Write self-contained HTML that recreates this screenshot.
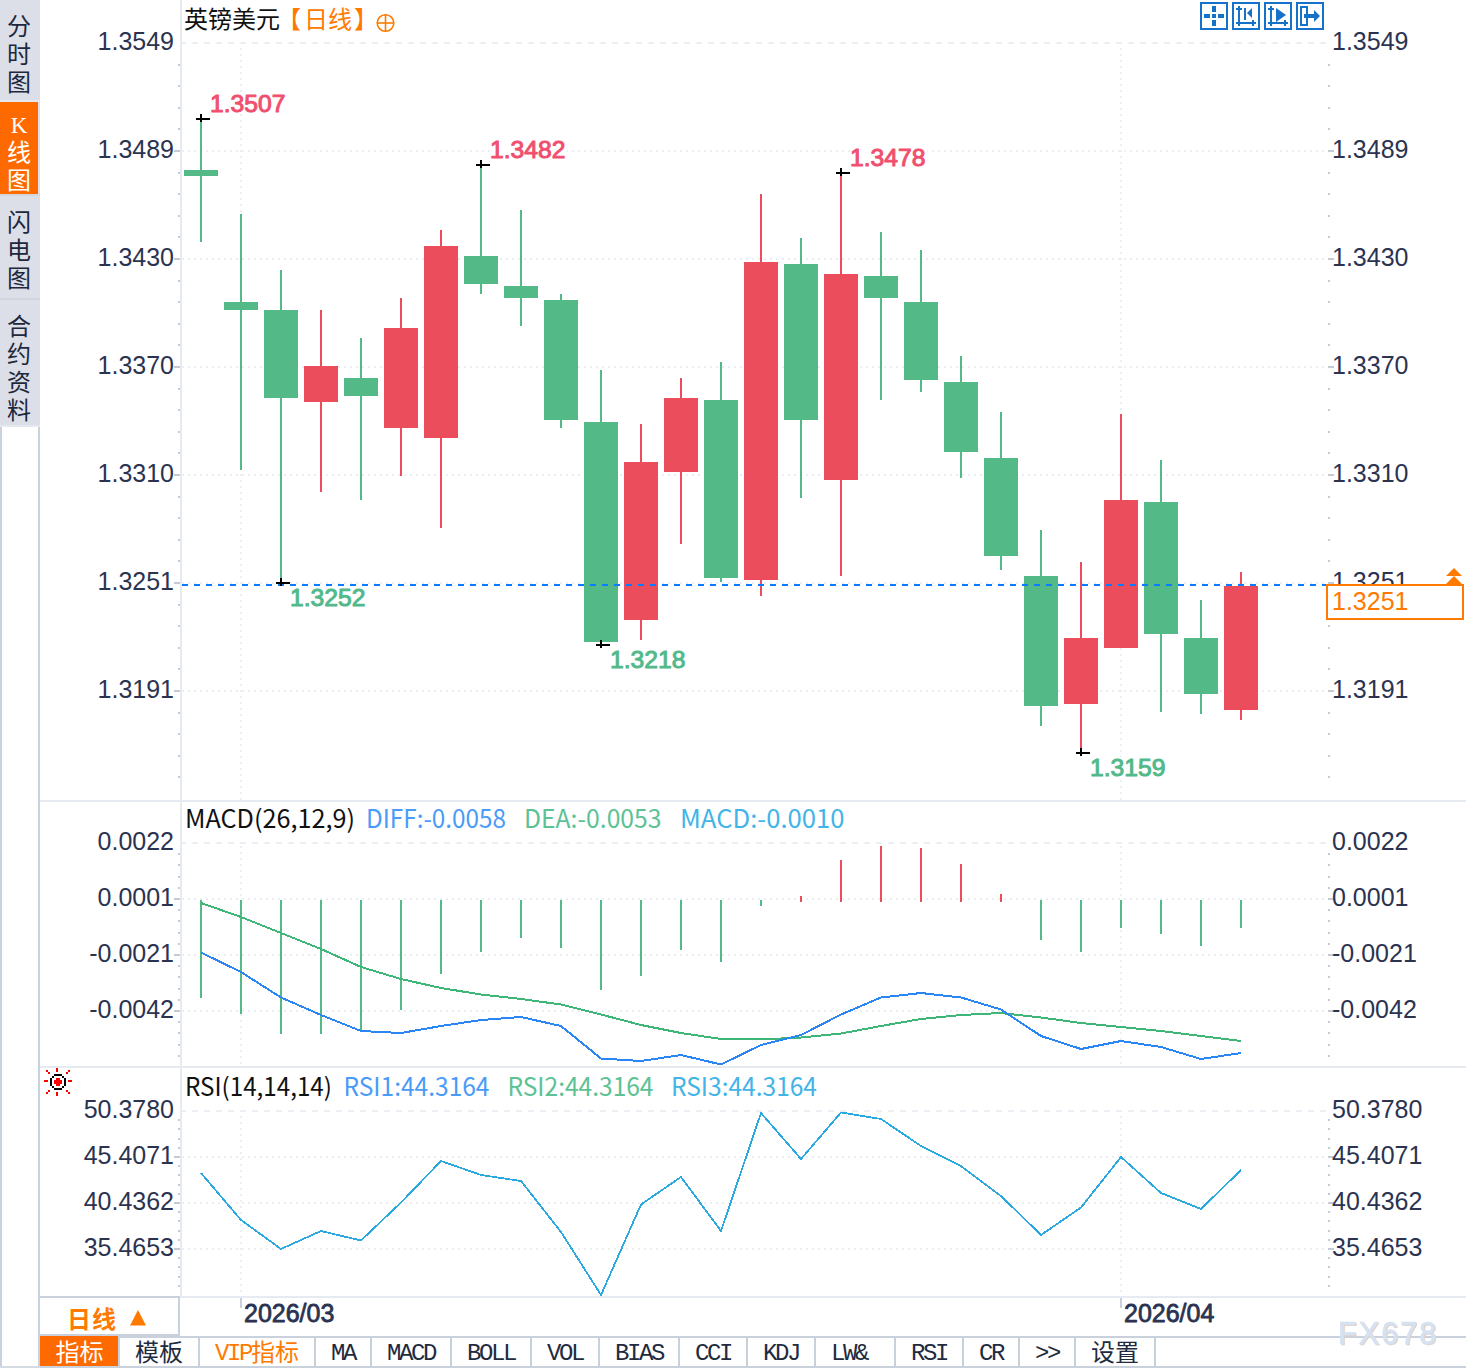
<!DOCTYPE html>
<html lang="zh-CN"><head><meta charset="utf-8"><title>英镑美元 日线</title>
<style>html,body{margin:0;padding:0;background:#fff;}body{width:1466px;height:1368px;position:relative;overflow:hidden;}</style></head>
<body>
<svg width="1466" height="1368" viewBox="0 0 1466 1368" style="position:absolute;left:0;top:0" shape-rendering="crispEdges">
<rect x="0" y="0" width="1466" height="1368" fill="#ffffff"/>
<rect x="0" y="0" width="40" height="427" fill="#dcdfe8"/>
<rect x="0" y="102" width="38" height="92" fill="#ff6a00"/>
<rect x="0" y="100" width="40" height="2" fill="#e6e8ef"/>
<rect x="0" y="194" width="40" height="2" fill="#d3d7e1"/>
<rect x="0" y="298" width="40" height="2" fill="#d0d5df"/>
<rect x="0" y="425" width="40" height="2" fill="#e6e8ef"/>
<rect x="0" y="427" width="2" height="939" fill="#c9d1dc"/>
<rect x="38" y="427" width="2" height="939" fill="#c9d1dc"/>
<rect x="0" y="1366" width="40" height="2" fill="#d4dae2"/>
<rect x="40" y="800" width="1426" height="2" fill="#e6ebf2"/>
<rect x="40" y="1066" width="1426" height="2" fill="#e6ebf2"/>
<rect x="180" y="1296" width="1286" height="2" fill="#e6ebf2"/>
<rect x="40" y="1296" width="140" height="2" fill="#c9d1dc"/>
<rect x="180" y="0" width="2" height="1298" fill="#e6ebf2"/>
<line x1="180" y1="43" x2="1326" y2="43" stroke="#ebeff3" stroke-width="2" stroke-dasharray="6 6"/>
<line x1="182" y1="151" x2="1326" y2="151" stroke="#ebeff3" stroke-width="2" stroke-dasharray="2 4"/>
<line x1="182" y1="259" x2="1326" y2="259" stroke="#ebeff3" stroke-width="2" stroke-dasharray="2 4"/>
<line x1="182" y1="367" x2="1326" y2="367" stroke="#ebeff3" stroke-width="2" stroke-dasharray="2 4"/>
<line x1="182" y1="475" x2="1326" y2="475" stroke="#ebeff3" stroke-width="2" stroke-dasharray="2 4"/>
<line x1="182" y1="583" x2="1326" y2="583" stroke="#ebeff3" stroke-width="2" stroke-dasharray="2 4"/>
<line x1="182" y1="691" x2="1326" y2="691" stroke="#ebeff3" stroke-width="2" stroke-dasharray="2 4"/>
<line x1="241" y1="48" x2="241" y2="800" stroke="#ebeff3" stroke-width="2" stroke-dasharray="2 4"/>
<line x1="1121" y1="48" x2="1121" y2="800" stroke="#ebeff3" stroke-width="2" stroke-dasharray="2 4"/>
<line x1="180" y1="843" x2="1326" y2="843" stroke="#ebeff3" stroke-width="2" stroke-dasharray="6 6"/>
<line x1="182" y1="899" x2="1326" y2="899" stroke="#ebeff3" stroke-width="2" stroke-dasharray="2 4"/>
<line x1="182" y1="955" x2="1326" y2="955" stroke="#ebeff3" stroke-width="2" stroke-dasharray="2 4"/>
<line x1="182" y1="1011" x2="1326" y2="1011" stroke="#ebeff3" stroke-width="2" stroke-dasharray="2 4"/>
<line x1="241" y1="846" x2="241" y2="1066" stroke="#ebeff3" stroke-width="2" stroke-dasharray="2 4"/>
<line x1="1121" y1="846" x2="1121" y2="1066" stroke="#ebeff3" stroke-width="2" stroke-dasharray="2 4"/>
<line x1="180" y1="1111" x2="1326" y2="1111" stroke="#ebeff3" stroke-width="2" stroke-dasharray="6 6"/>
<line x1="182" y1="1157" x2="1326" y2="1157" stroke="#ebeff3" stroke-width="2" stroke-dasharray="2 4"/>
<line x1="182" y1="1203" x2="1326" y2="1203" stroke="#ebeff3" stroke-width="2" stroke-dasharray="2 4"/>
<line x1="182" y1="1249" x2="1326" y2="1249" stroke="#ebeff3" stroke-width="2" stroke-dasharray="2 4"/>
<line x1="241" y1="1116" x2="241" y2="1296" stroke="#ebeff3" stroke-width="2" stroke-dasharray="2 4"/>
<line x1="1121" y1="1116" x2="1121" y2="1296" stroke="#ebeff3" stroke-width="2" stroke-dasharray="2 4"/>
<rect x="180" y="0" width="2" height="1298" fill="#e6ebf2"/>
<rect x="178" y="64" width="2" height="2" fill="#c4cad6"/>
<rect x="1328" y="64" width="2" height="2" fill="#c4cad6"/>
<rect x="178" y="85" width="2" height="2" fill="#c4cad6"/>
<rect x="1328" y="85" width="2" height="2" fill="#c4cad6"/>
<rect x="178" y="107" width="2" height="2" fill="#c4cad6"/>
<rect x="1328" y="107" width="2" height="2" fill="#c4cad6"/>
<rect x="178" y="128" width="2" height="2" fill="#c4cad6"/>
<rect x="1328" y="128" width="2" height="2" fill="#c4cad6"/>
<rect x="178" y="172" width="2" height="2" fill="#c4cad6"/>
<rect x="1328" y="172" width="2" height="2" fill="#c4cad6"/>
<rect x="178" y="193" width="2" height="2" fill="#c4cad6"/>
<rect x="1328" y="193" width="2" height="2" fill="#c4cad6"/>
<rect x="178" y="215" width="2" height="2" fill="#c4cad6"/>
<rect x="1328" y="215" width="2" height="2" fill="#c4cad6"/>
<rect x="178" y="236" width="2" height="2" fill="#c4cad6"/>
<rect x="1328" y="236" width="2" height="2" fill="#c4cad6"/>
<rect x="178" y="280" width="2" height="2" fill="#c4cad6"/>
<rect x="1328" y="280" width="2" height="2" fill="#c4cad6"/>
<rect x="178" y="301" width="2" height="2" fill="#c4cad6"/>
<rect x="1328" y="301" width="2" height="2" fill="#c4cad6"/>
<rect x="178" y="323" width="2" height="2" fill="#c4cad6"/>
<rect x="1328" y="323" width="2" height="2" fill="#c4cad6"/>
<rect x="178" y="344" width="2" height="2" fill="#c4cad6"/>
<rect x="1328" y="344" width="2" height="2" fill="#c4cad6"/>
<rect x="178" y="388" width="2" height="2" fill="#c4cad6"/>
<rect x="1328" y="388" width="2" height="2" fill="#c4cad6"/>
<rect x="178" y="409" width="2" height="2" fill="#c4cad6"/>
<rect x="1328" y="409" width="2" height="2" fill="#c4cad6"/>
<rect x="178" y="431" width="2" height="2" fill="#c4cad6"/>
<rect x="1328" y="431" width="2" height="2" fill="#c4cad6"/>
<rect x="178" y="452" width="2" height="2" fill="#c4cad6"/>
<rect x="1328" y="452" width="2" height="2" fill="#c4cad6"/>
<rect x="178" y="496" width="2" height="2" fill="#c4cad6"/>
<rect x="1328" y="496" width="2" height="2" fill="#c4cad6"/>
<rect x="178" y="517" width="2" height="2" fill="#c4cad6"/>
<rect x="1328" y="517" width="2" height="2" fill="#c4cad6"/>
<rect x="178" y="539" width="2" height="2" fill="#c4cad6"/>
<rect x="1328" y="539" width="2" height="2" fill="#c4cad6"/>
<rect x="178" y="560" width="2" height="2" fill="#c4cad6"/>
<rect x="1328" y="560" width="2" height="2" fill="#c4cad6"/>
<rect x="178" y="604" width="2" height="2" fill="#c4cad6"/>
<rect x="1328" y="604" width="2" height="2" fill="#c4cad6"/>
<rect x="178" y="625" width="2" height="2" fill="#c4cad6"/>
<rect x="1328" y="625" width="2" height="2" fill="#c4cad6"/>
<rect x="178" y="647" width="2" height="2" fill="#c4cad6"/>
<rect x="1328" y="647" width="2" height="2" fill="#c4cad6"/>
<rect x="178" y="668" width="2" height="2" fill="#c4cad6"/>
<rect x="1328" y="668" width="2" height="2" fill="#c4cad6"/>
<rect x="178" y="712" width="2" height="2" fill="#c4cad6"/>
<rect x="1328" y="712" width="2" height="2" fill="#c4cad6"/>
<rect x="178" y="733" width="2" height="2" fill="#c4cad6"/>
<rect x="1328" y="733" width="2" height="2" fill="#c4cad6"/>
<rect x="178" y="755" width="2" height="2" fill="#c4cad6"/>
<rect x="1328" y="755" width="2" height="2" fill="#c4cad6"/>
<rect x="178" y="776" width="2" height="2" fill="#c4cad6"/>
<rect x="1328" y="776" width="2" height="2" fill="#c4cad6"/>
<rect x="174" y="150" width="6" height="2" fill="#c4cad6"/>
<rect x="1328" y="150" width="6" height="2" fill="#c4cad6"/>
<rect x="174" y="258" width="6" height="2" fill="#c4cad6"/>
<rect x="1328" y="258" width="6" height="2" fill="#c4cad6"/>
<rect x="174" y="366" width="6" height="2" fill="#c4cad6"/>
<rect x="1328" y="366" width="6" height="2" fill="#c4cad6"/>
<rect x="174" y="474" width="6" height="2" fill="#c4cad6"/>
<rect x="1328" y="474" width="6" height="2" fill="#c4cad6"/>
<rect x="174" y="582" width="6" height="2" fill="#c4cad6"/>
<rect x="1328" y="582" width="6" height="2" fill="#c4cad6"/>
<rect x="174" y="690" width="6" height="2" fill="#c4cad6"/>
<rect x="1328" y="690" width="6" height="2" fill="#c4cad6"/>
<rect x="178" y="853" width="2" height="2" fill="#c4cad6"/>
<rect x="1328" y="853" width="2" height="2" fill="#c4cad6"/>
<rect x="178" y="864" width="2" height="2" fill="#c4cad6"/>
<rect x="1328" y="864" width="2" height="2" fill="#c4cad6"/>
<rect x="178" y="876" width="2" height="2" fill="#c4cad6"/>
<rect x="1328" y="876" width="2" height="2" fill="#c4cad6"/>
<rect x="178" y="887" width="2" height="2" fill="#c4cad6"/>
<rect x="1328" y="887" width="2" height="2" fill="#c4cad6"/>
<rect x="178" y="909" width="2" height="2" fill="#c4cad6"/>
<rect x="1328" y="909" width="2" height="2" fill="#c4cad6"/>
<rect x="178" y="920" width="2" height="2" fill="#c4cad6"/>
<rect x="1328" y="920" width="2" height="2" fill="#c4cad6"/>
<rect x="178" y="932" width="2" height="2" fill="#c4cad6"/>
<rect x="1328" y="932" width="2" height="2" fill="#c4cad6"/>
<rect x="178" y="943" width="2" height="2" fill="#c4cad6"/>
<rect x="1328" y="943" width="2" height="2" fill="#c4cad6"/>
<rect x="178" y="965" width="2" height="2" fill="#c4cad6"/>
<rect x="1328" y="965" width="2" height="2" fill="#c4cad6"/>
<rect x="178" y="976" width="2" height="2" fill="#c4cad6"/>
<rect x="1328" y="976" width="2" height="2" fill="#c4cad6"/>
<rect x="178" y="988" width="2" height="2" fill="#c4cad6"/>
<rect x="1328" y="988" width="2" height="2" fill="#c4cad6"/>
<rect x="178" y="999" width="2" height="2" fill="#c4cad6"/>
<rect x="1328" y="999" width="2" height="2" fill="#c4cad6"/>
<rect x="178" y="1021" width="2" height="2" fill="#c4cad6"/>
<rect x="1328" y="1021" width="2" height="2" fill="#c4cad6"/>
<rect x="178" y="1032" width="2" height="2" fill="#c4cad6"/>
<rect x="1328" y="1032" width="2" height="2" fill="#c4cad6"/>
<rect x="178" y="1044" width="2" height="2" fill="#c4cad6"/>
<rect x="1328" y="1044" width="2" height="2" fill="#c4cad6"/>
<rect x="178" y="1055" width="2" height="2" fill="#c4cad6"/>
<rect x="1328" y="1055" width="2" height="2" fill="#c4cad6"/>
<rect x="174" y="898" width="6" height="2" fill="#c4cad6"/>
<rect x="1328" y="898" width="6" height="2" fill="#c4cad6"/>
<rect x="174" y="954" width="6" height="2" fill="#c4cad6"/>
<rect x="1328" y="954" width="6" height="2" fill="#c4cad6"/>
<rect x="174" y="1010" width="6" height="2" fill="#c4cad6"/>
<rect x="1328" y="1010" width="6" height="2" fill="#c4cad6"/>
<rect x="178" y="1119" width="2" height="2" fill="#c4cad6"/>
<rect x="1328" y="1119" width="2" height="2" fill="#c4cad6"/>
<rect x="178" y="1128" width="2" height="2" fill="#c4cad6"/>
<rect x="1328" y="1128" width="2" height="2" fill="#c4cad6"/>
<rect x="178" y="1138" width="2" height="2" fill="#c4cad6"/>
<rect x="1328" y="1138" width="2" height="2" fill="#c4cad6"/>
<rect x="178" y="1147" width="2" height="2" fill="#c4cad6"/>
<rect x="1328" y="1147" width="2" height="2" fill="#c4cad6"/>
<rect x="178" y="1165" width="2" height="2" fill="#c4cad6"/>
<rect x="1328" y="1165" width="2" height="2" fill="#c4cad6"/>
<rect x="178" y="1174" width="2" height="2" fill="#c4cad6"/>
<rect x="1328" y="1174" width="2" height="2" fill="#c4cad6"/>
<rect x="178" y="1184" width="2" height="2" fill="#c4cad6"/>
<rect x="1328" y="1184" width="2" height="2" fill="#c4cad6"/>
<rect x="178" y="1193" width="2" height="2" fill="#c4cad6"/>
<rect x="1328" y="1193" width="2" height="2" fill="#c4cad6"/>
<rect x="178" y="1211" width="2" height="2" fill="#c4cad6"/>
<rect x="1328" y="1211" width="2" height="2" fill="#c4cad6"/>
<rect x="178" y="1220" width="2" height="2" fill="#c4cad6"/>
<rect x="1328" y="1220" width="2" height="2" fill="#c4cad6"/>
<rect x="178" y="1230" width="2" height="2" fill="#c4cad6"/>
<rect x="1328" y="1230" width="2" height="2" fill="#c4cad6"/>
<rect x="178" y="1239" width="2" height="2" fill="#c4cad6"/>
<rect x="1328" y="1239" width="2" height="2" fill="#c4cad6"/>
<rect x="178" y="1257" width="2" height="2" fill="#c4cad6"/>
<rect x="1328" y="1257" width="2" height="2" fill="#c4cad6"/>
<rect x="178" y="1266" width="2" height="2" fill="#c4cad6"/>
<rect x="1328" y="1266" width="2" height="2" fill="#c4cad6"/>
<rect x="178" y="1276" width="2" height="2" fill="#c4cad6"/>
<rect x="1328" y="1276" width="2" height="2" fill="#c4cad6"/>
<rect x="178" y="1285" width="2" height="2" fill="#c4cad6"/>
<rect x="1328" y="1285" width="2" height="2" fill="#c4cad6"/>
<rect x="174" y="1156" width="6" height="2" fill="#c4cad6"/>
<rect x="1328" y="1156" width="6" height="2" fill="#c4cad6"/>
<rect x="174" y="1202" width="6" height="2" fill="#c4cad6"/>
<rect x="1328" y="1202" width="6" height="2" fill="#c4cad6"/>
<rect x="174" y="1248" width="6" height="2" fill="#c4cad6"/>
<rect x="1328" y="1248" width="6" height="2" fill="#c4cad6"/>
<rect x="200" y="119" width="2" height="123" fill="#53b987"/>
<rect x="184" y="170" width="34" height="6" fill="#53b987"/>
<rect x="240" y="214" width="2" height="256" fill="#53b987"/>
<rect x="224" y="302" width="34" height="8" fill="#53b987"/>
<rect x="280" y="270" width="2" height="313" fill="#53b987"/>
<rect x="264" y="310" width="34" height="88" fill="#53b987"/>
<rect x="320" y="310" width="2" height="182" fill="#eb4d5c"/>
<rect x="304" y="366" width="34" height="36" fill="#eb4d5c"/>
<rect x="360" y="338" width="2" height="162" fill="#53b987"/>
<rect x="344" y="378" width="34" height="18" fill="#53b987"/>
<rect x="400" y="298" width="2" height="178" fill="#eb4d5c"/>
<rect x="384" y="328" width="34" height="100" fill="#eb4d5c"/>
<rect x="440" y="230" width="2" height="298" fill="#eb4d5c"/>
<rect x="424" y="246" width="34" height="192" fill="#eb4d5c"/>
<rect x="480" y="165" width="2" height="129" fill="#53b987"/>
<rect x="464" y="256" width="34" height="28" fill="#53b987"/>
<rect x="520" y="210" width="2" height="116" fill="#53b987"/>
<rect x="504" y="286" width="34" height="12" fill="#53b987"/>
<rect x="560" y="294" width="2" height="134" fill="#53b987"/>
<rect x="544" y="300" width="34" height="120" fill="#53b987"/>
<rect x="600" y="370" width="2" height="275" fill="#53b987"/>
<rect x="584" y="422" width="34" height="220" fill="#53b987"/>
<rect x="640" y="424" width="2" height="216" fill="#eb4d5c"/>
<rect x="624" y="462" width="34" height="158" fill="#eb4d5c"/>
<rect x="680" y="378" width="2" height="166" fill="#eb4d5c"/>
<rect x="664" y="398" width="34" height="74" fill="#eb4d5c"/>
<rect x="720" y="362" width="2" height="220" fill="#53b987"/>
<rect x="704" y="400" width="34" height="178" fill="#53b987"/>
<rect x="760" y="194" width="2" height="402" fill="#eb4d5c"/>
<rect x="744" y="262" width="34" height="318" fill="#eb4d5c"/>
<rect x="800" y="238" width="2" height="260" fill="#53b987"/>
<rect x="784" y="264" width="34" height="156" fill="#53b987"/>
<rect x="840" y="173" width="2" height="403" fill="#eb4d5c"/>
<rect x="824" y="274" width="34" height="206" fill="#eb4d5c"/>
<rect x="880" y="232" width="2" height="168" fill="#53b987"/>
<rect x="864" y="276" width="34" height="22" fill="#53b987"/>
<rect x="920" y="250" width="2" height="142" fill="#53b987"/>
<rect x="904" y="302" width="34" height="78" fill="#53b987"/>
<rect x="960" y="356" width="2" height="122" fill="#53b987"/>
<rect x="944" y="382" width="34" height="70" fill="#53b987"/>
<rect x="1000" y="412" width="2" height="158" fill="#53b987"/>
<rect x="984" y="458" width="34" height="98" fill="#53b987"/>
<rect x="1040" y="530" width="2" height="196" fill="#53b987"/>
<rect x="1024" y="576" width="34" height="130" fill="#53b987"/>
<rect x="1080" y="562" width="2" height="191" fill="#eb4d5c"/>
<rect x="1064" y="638" width="34" height="66" fill="#eb4d5c"/>
<rect x="1120" y="414" width="2" height="234" fill="#eb4d5c"/>
<rect x="1104" y="500" width="34" height="148" fill="#eb4d5c"/>
<rect x="1160" y="460" width="2" height="252" fill="#53b987"/>
<rect x="1144" y="502" width="34" height="132" fill="#53b987"/>
<rect x="1200" y="600" width="2" height="114" fill="#53b987"/>
<rect x="1184" y="638" width="34" height="56" fill="#53b987"/>
<rect x="1240" y="572" width="2" height="148" fill="#eb4d5c"/>
<rect x="1224" y="586" width="34" height="124" fill="#eb4d5c"/>
<line x1="182" y1="585" x2="1326" y2="585" stroke="#0a7cff" stroke-width="2" stroke-dasharray="6 6"/>
<rect x="196" y="118" width="14" height="2" fill="#000"/>
<rect x="200" y="114" width="2" height="8" fill="#000"/>
<rect x="476" y="164" width="14" height="2" fill="#000"/>
<rect x="480" y="160" width="2" height="8" fill="#000"/>
<rect x="836" y="172" width="14" height="2" fill="#000"/>
<rect x="840" y="168" width="2" height="8" fill="#000"/>
<rect x="276" y="582" width="14" height="2" fill="#000"/>
<rect x="280" y="578" width="2" height="8" fill="#000"/>
<rect x="596" y="644" width="14" height="2" fill="#000"/>
<rect x="600" y="640" width="2" height="8" fill="#000"/>
<rect x="1076" y="752" width="14" height="2" fill="#000"/>
<rect x="1080" y="748" width="2" height="8" fill="#000"/>
<rect x="200" y="900" width="2" height="98" fill="#53b987"/>
<rect x="240" y="900" width="2" height="114" fill="#53b987"/>
<rect x="280" y="900" width="2" height="134" fill="#53b987"/>
<rect x="320" y="900" width="2" height="134" fill="#53b987"/>
<rect x="360" y="900" width="2" height="131" fill="#53b987"/>
<rect x="400" y="900" width="2" height="110" fill="#53b987"/>
<rect x="440" y="900" width="2" height="74" fill="#53b987"/>
<rect x="480" y="900" width="2" height="52" fill="#53b987"/>
<rect x="520" y="900" width="2" height="38" fill="#53b987"/>
<rect x="560" y="900" width="2" height="48" fill="#53b987"/>
<rect x="600" y="900" width="2" height="90" fill="#53b987"/>
<rect x="640" y="900" width="2" height="76" fill="#53b987"/>
<rect x="680" y="900" width="2" height="50" fill="#53b987"/>
<rect x="720" y="900" width="2" height="62" fill="#53b987"/>
<rect x="760" y="900" width="2" height="6" fill="#53b987"/>
<rect x="800" y="896" width="2" height="6" fill="#eb4d5c"/>
<rect x="840" y="860" width="2" height="42" fill="#eb4d5c"/>
<rect x="880" y="846" width="2" height="56" fill="#eb4d5c"/>
<rect x="920" y="848" width="2" height="54" fill="#eb4d5c"/>
<rect x="960" y="864" width="2" height="38" fill="#eb4d5c"/>
<rect x="1000" y="894" width="2" height="8" fill="#eb4d5c"/>
<rect x="1040" y="900" width="2" height="40" fill="#53b987"/>
<rect x="1080" y="900" width="2" height="52" fill="#53b987"/>
<rect x="1120" y="900" width="2" height="28" fill="#53b987"/>
<rect x="1160" y="900" width="2" height="34" fill="#53b987"/>
<rect x="1200" y="900" width="2" height="46" fill="#53b987"/>
<rect x="1240" y="900" width="2" height="28" fill="#53b987"/>
</svg>
<svg width="1466" height="1368" viewBox="0 0 1466 1368" style="position:absolute;left:0;top:0">
<polyline points="201,903 241,917 281,933 321,949 361,967 401,979 441,988 481,994.5 521,999 561,1004.5 601,1014.5 641,1025 681,1033 721,1039 761,1039.5 801,1037.5 841,1033.5 881,1026 921,1019 961,1015 1001,1013 1041,1017.5 1081,1023 1121,1027 1161,1031 1201,1036 1241,1041" fill="none" stroke="#3db678" stroke-width="2" stroke-linejoin="round" shape-rendering="crispEdges"/>
<polyline points="201,952.5 241,972 281,997.5 321,1015 361,1031 401,1033 441,1026 481,1020 521,1017 561,1026 601,1058.5 641,1061 681,1055 721,1064.5 761,1045 801,1035 841,1014.5 881,997.5 921,993 961,997.5 1001,1009.5 1041,1036 1081,1049 1121,1041 1161,1047 1201,1059 1241,1053" fill="none" stroke="#2a86f5" stroke-width="2" stroke-linejoin="round" shape-rendering="crispEdges"/>
<polyline points="201,1173 241,1220 281,1249 321,1231 361,1240.5 401,1202.5 441,1161 481,1175 521,1181 561,1232 601,1295 641,1204.5 681,1177 721,1231 761,1113 801,1159 841,1112.5 881,1119 921,1146 961,1166 1001,1196 1041,1235 1081,1207.5 1121,1157 1161,1193 1201,1209 1241,1170" fill="none" stroke="#2aa9e0" stroke-width="1.8" stroke-linejoin="round" shape-rendering="crispEdges"/>
<rect x="1201" y="3" width="26" height="26" fill="#fff" stroke="#1672c8" stroke-width="2" shape-rendering="crispEdges"/>
<rect x="1233" y="3" width="26" height="26" fill="#fff" stroke="#1672c8" stroke-width="2" shape-rendering="crispEdges"/>
<rect x="1265" y="3" width="26" height="26" fill="#fff" stroke="#1672c8" stroke-width="2" shape-rendering="crispEdges"/>
<rect x="1297" y="3" width="26" height="26" fill="#fff" stroke="#1672c8" stroke-width="2" shape-rendering="crispEdges"/>
<g fill="#1672c8" shape-rendering="crispEdges"><rect x="1212" y="6" width="4" height="6"/><rect x="1212" y="20" width="4" height="6"/><rect x="1204" y="14" width="6" height="4"/><rect x="1218" y="14" width="6" height="4"/><rect x="1212" y="14" width="4" height="4"/></g>
<g fill="#1672c8" shape-rendering="crispEdges"><rect x="1238" y="6" width="2" height="20"/><rect x="1236" y="8" width="6" height="2"/><rect x="1236" y="22" width="20" height="2"/><rect x="1252" y="20" width="2" height="6"/><rect x="1244" y="8" width="2" height="12"/></g><path d="M1252 8 L1252 18 L1247 13 Z" fill="#1672c8"/>
<g fill="#1672c8" shape-rendering="crispEdges"><rect x="1270" y="6" width="2" height="20"/><rect x="1268" y="8" width="6" height="2"/><rect x="1268" y="22" width="20" height="2"/><rect x="1284" y="20" width="2" height="6"/></g><path d="M1276 8 L1286 15 L1276 22 Z" fill="#1672c8"/>
<g shape-rendering="crispEdges"><rect x="1301" y="7" width="6" height="18" fill="none" stroke="#1672c8" stroke-width="2"/><rect x="1304" y="14" width="12" height="4" fill="#1672c8"/></g><path d="M1314 10 L1320 16 L1314 22 Z" fill="#1672c8"/>
<g stroke="#ff7a00" stroke-width="1.6" fill="none"><circle cx="385.5" cy="23" r="8.3"/><line x1="377" y1="23" x2="394" y2="23"/><line x1="385.5" y1="14.5" x2="385.5" y2="31.5"/></g>
<rect x="1327" y="585" width="136" height="34" fill="#fff" stroke="#ff7a00" stroke-width="2" shape-rendering="crispEdges"/>
<path d="M1446 576 L1454 568 L1462 576 Z M1446 584 L1454 576 L1462 584 Z" fill="#ff7a00"/>
<g shape-rendering="crispEdges"><g fill="#000"><rect x="54" y="1074" width="8" height="2"/><rect x="54" y="1088" width="8" height="2"/><rect x="50" y="1078" width="2" height="8"/><rect x="64" y="1078" width="2" height="8"/><rect x="52" y="1076" width="2" height="2"/><rect x="62" y="1076" width="2" height="2"/><rect x="52" y="1086" width="2" height="2"/><rect x="62" y="1086" width="2" height="2"/></g><g fill="#f00"><rect x="54" y="1080" width="8" height="4"/><rect x="56" y="1078" width="4" height="8"/><rect x="56" y="1068" width="2" height="4"/><rect x="56" y="1092" width="2" height="4"/><rect x="44" y="1080" width="4" height="2"/><rect x="68" y="1080" width="4" height="2"/><rect x="46" y="1070" width="2" height="2"/><rect x="48" y="1072" width="2" height="2"/><rect x="68" y="1070" width="2" height="2"/><rect x="66" y="1072" width="2" height="2"/><rect x="46" y="1092" width="2" height="2"/><rect x="48" y="1090" width="2" height="2"/><rect x="68" y="1092" width="2" height="2"/><rect x="66" y="1090" width="2" height="2"/></g></g>
<g shape-rendering="crispEdges">
<rect x="178" y="1298" width="2" height="38" fill="#c9d1dc"/>
<rect x="40" y="1334" width="140" height="2" fill="#c9d1dc"/>
<rect x="40" y="1336" width="1426" height="2" fill="#c9d1dc"/>
<rect x="40" y="1366" width="1426" height="2" fill="#c9d1dc"/>
<rect x="40" y="1336" width="78" height="30" fill="#ff6a00"/>
<rect x="118" y="1338" width="2" height="28" fill="#c9d1dc"/>
<rect x="198" y="1338" width="2" height="28" fill="#c9d1dc"/>
<rect x="314" y="1338" width="2" height="28" fill="#c9d1dc"/>
<rect x="370" y="1338" width="2" height="28" fill="#c9d1dc"/>
<rect x="450" y="1338" width="2" height="28" fill="#c9d1dc"/>
<rect x="530" y="1338" width="2" height="28" fill="#c9d1dc"/>
<rect x="598" y="1338" width="2" height="28" fill="#c9d1dc"/>
<rect x="678" y="1338" width="2" height="28" fill="#c9d1dc"/>
<rect x="746" y="1338" width="2" height="28" fill="#c9d1dc"/>
<rect x="814" y="1338" width="2" height="28" fill="#c9d1dc"/>
<rect x="894" y="1338" width="2" height="28" fill="#c9d1dc"/>
<rect x="962" y="1338" width="2" height="28" fill="#c9d1dc"/>
<rect x="1018" y="1338" width="2" height="28" fill="#c9d1dc"/>
<rect x="1074" y="1338" width="2" height="28" fill="#c9d1dc"/>
<rect x="1154" y="1338" width="2" height="28" fill="#c9d1dc"/>
<rect x="240" y="1298" width="2" height="10" fill="#c9d1dc"/>
<rect x="1120" y="1298" width="2" height="10" fill="#c9d1dc"/>
</g>
<path d="M130 1325.5 L138 1310 L146 1325.5 Z" fill="#ff7a00"/>
<text x="174" y="50" font-family="Liberation Sans, sans-serif" font-size="25" fill="#2b3350" text-anchor="end" font-weight="normal" >1.3549</text>
<text x="1332" y="50" font-family="Liberation Sans, sans-serif" font-size="25" fill="#2b3350" text-anchor="start" font-weight="normal" >1.3549</text>
<text x="174" y="158" font-family="Liberation Sans, sans-serif" font-size="25" fill="#2b3350" text-anchor="end" font-weight="normal" >1.3489</text>
<text x="1332" y="158" font-family="Liberation Sans, sans-serif" font-size="25" fill="#2b3350" text-anchor="start" font-weight="normal" >1.3489</text>
<text x="174" y="266" font-family="Liberation Sans, sans-serif" font-size="25" fill="#2b3350" text-anchor="end" font-weight="normal" >1.3430</text>
<text x="1332" y="266" font-family="Liberation Sans, sans-serif" font-size="25" fill="#2b3350" text-anchor="start" font-weight="normal" >1.3430</text>
<text x="174" y="374" font-family="Liberation Sans, sans-serif" font-size="25" fill="#2b3350" text-anchor="end" font-weight="normal" >1.3370</text>
<text x="1332" y="374" font-family="Liberation Sans, sans-serif" font-size="25" fill="#2b3350" text-anchor="start" font-weight="normal" >1.3370</text>
<text x="174" y="482" font-family="Liberation Sans, sans-serif" font-size="25" fill="#2b3350" text-anchor="end" font-weight="normal" >1.3310</text>
<text x="1332" y="482" font-family="Liberation Sans, sans-serif" font-size="25" fill="#2b3350" text-anchor="start" font-weight="normal" >1.3310</text>
<text x="174" y="590" font-family="Liberation Sans, sans-serif" font-size="25" fill="#2b3350" text-anchor="end" font-weight="normal" >1.3251</text>
<text x="1332" y="590" font-family="Liberation Sans, sans-serif" font-size="25" fill="#2b3350" text-anchor="start" font-weight="normal" >1.3251</text>
<text x="174" y="698" font-family="Liberation Sans, sans-serif" font-size="25" fill="#2b3350" text-anchor="end" font-weight="normal" >1.3191</text>
<text x="1332" y="698" font-family="Liberation Sans, sans-serif" font-size="25" fill="#2b3350" text-anchor="start" font-weight="normal" >1.3191</text>
<text x="174" y="850" font-family="Liberation Sans, sans-serif" font-size="25" fill="#2b3350" text-anchor="end" font-weight="normal" >0.0022</text>
<text x="1332" y="850" font-family="Liberation Sans, sans-serif" font-size="25" fill="#2b3350" text-anchor="start" font-weight="normal" >0.0022</text>
<text x="174" y="906" font-family="Liberation Sans, sans-serif" font-size="25" fill="#2b3350" text-anchor="end" font-weight="normal" >0.0001</text>
<text x="1332" y="906" font-family="Liberation Sans, sans-serif" font-size="25" fill="#2b3350" text-anchor="start" font-weight="normal" >0.0001</text>
<text x="174" y="962" font-family="Liberation Sans, sans-serif" font-size="25" fill="#2b3350" text-anchor="end" font-weight="normal" >-0.0021</text>
<text x="1332" y="962" font-family="Liberation Sans, sans-serif" font-size="25" fill="#2b3350" text-anchor="start" font-weight="normal" >-0.0021</text>
<text x="174" y="1018" font-family="Liberation Sans, sans-serif" font-size="25" fill="#2b3350" text-anchor="end" font-weight="normal" >-0.0042</text>
<text x="1332" y="1018" font-family="Liberation Sans, sans-serif" font-size="25" fill="#2b3350" text-anchor="start" font-weight="normal" >-0.0042</text>
<text x="174" y="1118" font-family="Liberation Sans, sans-serif" font-size="25" fill="#2b3350" text-anchor="end" font-weight="normal" >50.3780</text>
<text x="1332" y="1118" font-family="Liberation Sans, sans-serif" font-size="25" fill="#2b3350" text-anchor="start" font-weight="normal" >50.3780</text>
<text x="174" y="1164" font-family="Liberation Sans, sans-serif" font-size="25" fill="#2b3350" text-anchor="end" font-weight="normal" >45.4071</text>
<text x="1332" y="1164" font-family="Liberation Sans, sans-serif" font-size="25" fill="#2b3350" text-anchor="start" font-weight="normal" >45.4071</text>
<text x="174" y="1210" font-family="Liberation Sans, sans-serif" font-size="25" fill="#2b3350" text-anchor="end" font-weight="normal" >40.4362</text>
<text x="1332" y="1210" font-family="Liberation Sans, sans-serif" font-size="25" fill="#2b3350" text-anchor="start" font-weight="normal" >40.4362</text>
<text x="174" y="1256" font-family="Liberation Sans, sans-serif" font-size="25" fill="#2b3350" text-anchor="end" font-weight="normal" >35.4653</text>
<text x="1332" y="1256" font-family="Liberation Sans, sans-serif" font-size="25" fill="#2b3350" text-anchor="start" font-weight="normal" >35.4653</text>
<rect x="1327" y="585" width="136" height="34" fill="#fff" stroke="#ff7a00" stroke-width="2" shape-rendering="crispEdges"/>
<text x="1332" y="610" font-family="Liberation Sans, sans-serif" font-size="25" fill="#ff7a00" text-anchor="start" font-weight="normal" >1.3251</text>
<rect x="210" y="93" width="77" height="21" fill="#fff"/>
<rect x="490" y="139" width="77" height="21" fill="#fff"/>
<rect x="850" y="147" width="77" height="21" fill="#fff"/>
<rect x="290" y="587" width="77" height="21" fill="#fff"/>
<rect x="610" y="649" width="77" height="21" fill="#fff"/>
<rect x="1090" y="757" width="77" height="21" fill="#fff"/>
<text x="210" y="112" font-family="Liberation Sans, sans-serif" font-size="24.7" fill="#f0506e" text-anchor="start" font-weight="normal" stroke="#f0506e" stroke-width="1.0" stroke-linejoin="round">1.3507</text>
<text x="490" y="158" font-family="Liberation Sans, sans-serif" font-size="24.7" fill="#f0506e" text-anchor="start" font-weight="normal" stroke="#f0506e" stroke-width="1.0" stroke-linejoin="round">1.3482</text>
<text x="850" y="166" font-family="Liberation Sans, sans-serif" font-size="24.7" fill="#f0506e" text-anchor="start" font-weight="normal" stroke="#f0506e" stroke-width="1.0" stroke-linejoin="round">1.3478</text>
<text x="290" y="606" font-family="Liberation Sans, sans-serif" font-size="24.7" fill="#52b98a" text-anchor="start" font-weight="normal" stroke="#52b98a" stroke-width="1.0" stroke-linejoin="round">1.3252</text>
<text x="610" y="668" font-family="Liberation Sans, sans-serif" font-size="24.7" fill="#52b98a" text-anchor="start" font-weight="normal" stroke="#52b98a" stroke-width="1.0" stroke-linejoin="round">1.3218</text>
<text x="1090" y="776" font-family="Liberation Sans, sans-serif" font-size="24.7" fill="#52b98a" text-anchor="start" font-weight="normal" stroke="#52b98a" stroke-width="1.0" stroke-linejoin="round">1.3159</text>
<text x="184" y="28" font-family="Noto Sans CJK SC, Liberation Sans, sans-serif" font-size="24" fill="#111" text-anchor="start" font-weight="normal" >英镑美元</text>
<text x="277" y="28" font-family="Noto Sans CJK SC, Liberation Sans, sans-serif" font-size="24" fill="#ff7a00" text-anchor="start" font-weight="normal" >【</text>
<text x="304" y="28" font-family="Noto Sans CJK SC, Liberation Sans, sans-serif" font-size="24" fill="#ff7a00" text-anchor="start" font-weight="normal" >日线</text>
<text x="354" y="28" font-family="Noto Sans CJK SC, Liberation Sans, sans-serif" font-size="24" fill="#ff7a00" text-anchor="start" font-weight="normal" >】</text>
<text x="185" y="828" font-family="Noto Sans CJK SC, Liberation Sans, sans-serif" font-size="25" fill="#111" text-anchor="start" font-weight="normal" textLength="170" lengthAdjust="spacingAndGlyphs">MACD(26,12,9)</text>
<text x="366" y="828" font-family="Noto Sans CJK SC, Liberation Sans, sans-serif" font-size="25" fill="#4a9bf8" text-anchor="start" font-weight="normal" textLength="140" lengthAdjust="spacingAndGlyphs">DIFF:-0.0058</text>
<text x="524" y="828" font-family="Noto Sans CJK SC, Liberation Sans, sans-serif" font-size="25" fill="#5cc294" text-anchor="start" font-weight="normal" textLength="137.5" lengthAdjust="spacingAndGlyphs">DEA:-0.0053</text>
<text x="680" y="828" font-family="Noto Sans CJK SC, Liberation Sans, sans-serif" font-size="25" fill="#42b4e8" text-anchor="start" font-weight="normal" textLength="164.5" lengthAdjust="spacingAndGlyphs">MACD:-0.0010</text>
<text x="185" y="1096" font-family="Noto Sans CJK SC, Liberation Sans, sans-serif" font-size="25" fill="#111" text-anchor="start" font-weight="normal" textLength="147" lengthAdjust="spacingAndGlyphs">RSI(14,14,14)</text>
<text x="343.5" y="1096" font-family="Noto Sans CJK SC, Liberation Sans, sans-serif" font-size="25" fill="#4a9bf8" text-anchor="start" font-weight="normal" textLength="146" lengthAdjust="spacingAndGlyphs">RSI1:44.3164</text>
<text x="507.5" y="1096" font-family="Noto Sans CJK SC, Liberation Sans, sans-serif" font-size="25" fill="#5cc294" text-anchor="start" font-weight="normal" textLength="146" lengthAdjust="spacingAndGlyphs">RSI2:44.3164</text>
<text x="671" y="1096" font-family="Noto Sans CJK SC, Liberation Sans, sans-serif" font-size="25" fill="#42b4e8" text-anchor="start" font-weight="normal" textLength="146" lengthAdjust="spacingAndGlyphs">RSI3:44.3164</text>
<text x="244" y="1322" font-family="Liberation Sans, sans-serif" font-size="25" fill="#2b3350" text-anchor="start" font-weight="normal" stroke="#2b3350" stroke-width="0.8" stroke-linejoin="round">2026/03</text>
<text x="1124" y="1322" font-family="Liberation Sans, sans-serif" font-size="25" fill="#2b3350" text-anchor="start" font-weight="normal" stroke="#2b3350" stroke-width="0.8" stroke-linejoin="round">2026/04</text>
<text x="1338" y="1344" font-family="Liberation Sans, sans-serif" font-size="30.5" fill="#d6e1f1" text-anchor="start" font-weight="normal" letter-spacing="2.1" stroke="#d6e1f1" stroke-width="0.7" style="filter:drop-shadow(1px 1px 0 #ddd3cc)">FX678</text>
<text x="19" y="35" font-family="Noto Sans CJK SC, sans-serif" font-size="24" fill="#1e283c" text-anchor="middle" font-weight="normal" >分</text>
<text x="19" y="63" font-family="Noto Sans CJK SC, sans-serif" font-size="24" fill="#1e283c" text-anchor="middle" font-weight="normal" >时</text>
<text x="19" y="91" font-family="Noto Sans CJK SC, sans-serif" font-size="24" fill="#1e283c" text-anchor="middle" font-weight="normal" >图</text>
<text x="19" y="161" font-family="Noto Sans CJK SC, sans-serif" font-size="24" fill="#fff" text-anchor="middle" font-weight="normal" >线</text>
<text x="19" y="189" font-family="Noto Sans CJK SC, sans-serif" font-size="24" fill="#fff" text-anchor="middle" font-weight="normal" >图</text>
<text x="19" y="133" font-family="Liberation Serif, serif" font-size="23" fill="#fff" text-anchor="middle" font-weight="normal" >K</text>
<text x="19" y="231" font-family="Noto Sans CJK SC, sans-serif" font-size="24" fill="#1e283c" text-anchor="middle" font-weight="normal" >闪</text>
<text x="19" y="259" font-family="Noto Sans CJK SC, sans-serif" font-size="24" fill="#1e283c" text-anchor="middle" font-weight="normal" >电</text>
<text x="19" y="287" font-family="Noto Sans CJK SC, sans-serif" font-size="24" fill="#1e283c" text-anchor="middle" font-weight="normal" >图</text>
<text x="19" y="335" font-family="Noto Sans CJK SC, sans-serif" font-size="24" fill="#1e283c" text-anchor="middle" font-weight="normal" >合</text>
<text x="19" y="363" font-family="Noto Sans CJK SC, sans-serif" font-size="24" fill="#1e283c" text-anchor="middle" font-weight="normal" >约</text>
<text x="19" y="391" font-family="Noto Sans CJK SC, sans-serif" font-size="24" fill="#1e283c" text-anchor="middle" font-weight="normal" >资</text>
<text x="19" y="419" font-family="Noto Sans CJK SC, sans-serif" font-size="24" fill="#1e283c" text-anchor="middle" font-weight="normal" >料</text>
<text x="67" y="1328" font-family="Noto Sans CJK SC, Liberation Sans, sans-serif" font-size="24" fill="#ff7a00" text-anchor="start" font-weight="bold" letter-spacing="1">日线</text>
<text x="79.5" y="1361" font-family="Noto Sans CJK SC, sans-serif" font-size="24" fill="#fff" text-anchor="middle" font-weight="normal" >指标</text>
<text x="159.0" y="1361" font-family="Noto Sans CJK SC, sans-serif" font-size="24" fill="#222b3e" text-anchor="middle" font-weight="normal" >模板</text>
<text x="215" y="1360" font-family="Liberation Mono, monospace" font-size="24" fill="#ff7a00" text-anchor="start" font-weight="normal" letter-spacing="-2.4">VIP</text>
<text x="251" y="1361" font-family="Noto Sans CJK SC, sans-serif" font-size="24" fill="#ff7a00" text-anchor="start" font-weight="normal" >指标</text>
<text x="331.0" y="1360" font-family="Liberation Mono, monospace" font-size="24" fill="#222b3e" text-anchor="start" font-weight="normal" letter-spacing="-2.4">MA</text>
<text x="387.0" y="1360" font-family="Liberation Mono, monospace" font-size="24" fill="#222b3e" text-anchor="start" font-weight="normal" letter-spacing="-2.4">MACD</text>
<text x="467.0" y="1360" font-family="Liberation Mono, monospace" font-size="24" fill="#222b3e" text-anchor="start" font-weight="normal" letter-spacing="-2.4">BOLL</text>
<text x="547.0" y="1360" font-family="Liberation Mono, monospace" font-size="24" fill="#222b3e" text-anchor="start" font-weight="normal" letter-spacing="-2.4">VOL</text>
<text x="615.0" y="1360" font-family="Liberation Mono, monospace" font-size="24" fill="#222b3e" text-anchor="start" font-weight="normal" letter-spacing="-2.4">BIAS</text>
<text x="695.0" y="1360" font-family="Liberation Mono, monospace" font-size="24" fill="#222b3e" text-anchor="start" font-weight="normal" letter-spacing="-2.4">CCI</text>
<text x="763.0" y="1360" font-family="Liberation Mono, monospace" font-size="24" fill="#222b3e" text-anchor="start" font-weight="normal" letter-spacing="-2.4">KDJ</text>
<text x="831" y="1360" font-family="Liberation Mono, monospace" font-size="24" fill="#222b3e" text-anchor="start" font-weight="normal" letter-spacing="-2.4">LW&amp;</text>
<text x="911.0" y="1360" font-family="Liberation Mono, monospace" font-size="24" fill="#222b3e" text-anchor="start" font-weight="normal" letter-spacing="-2.4">RSI</text>
<text x="979.0" y="1360" font-family="Liberation Mono, monospace" font-size="24" fill="#222b3e" text-anchor="start" font-weight="normal" letter-spacing="-2.4">CR</text>
<text x="1035.0" y="1360" font-family="Liberation Mono, monospace" font-size="24" fill="#222b3e" text-anchor="start" font-weight="normal" letter-spacing="-2.4">&gt;&gt;</text>
<text x="1115.0" y="1361" font-family="Noto Sans CJK SC, sans-serif" font-size="24" fill="#222b3e" text-anchor="middle" font-weight="normal" >设置</text>
</svg>
</body></html>
